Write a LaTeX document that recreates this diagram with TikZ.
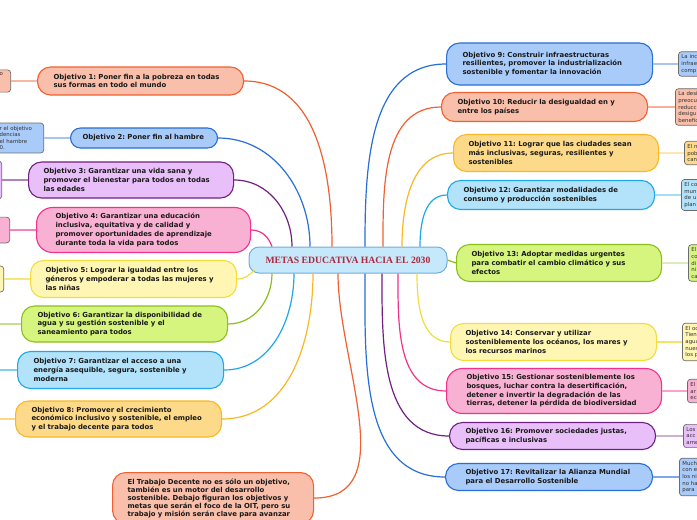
\documentclass[tikz,border=0pt]{standalone}
\usepackage{fontspec}
\setmainfont{DejaVu Sans}
\newfontfamily\titlefont{Liberation Serif}
\usetikzlibrary{positioning}
\frenchspacing
\definecolor{salmonFill}{RGB}{249,191,170}
\definecolor{salmonLine}{RGB}{240,96,48}
\definecolor{blueFill}{RGB}{168,203,250}
\definecolor{blueLine}{RGB}{40,110,215}
\definecolor{lilacFill}{RGB}{233,191,249}
\definecolor{lilacLine}{RGB}{112,32,128}
\definecolor{pinkFill}{RGB}{249,177,211}
\definecolor{pinkLine}{RGB}{240,50,140}
\definecolor{yellowFill}{RGB}{255,246,180}
\definecolor{yellowLine}{RGB}{240,222,60}
\definecolor{greenFill}{RGB}{214,245,126}
\definecolor{greenLine}{RGB}{140,190,30}
\definecolor{cyanFill}{RGB}{178,227,250}
\definecolor{cyanLine}{RGB}{30,168,232}
\definecolor{orangeFill}{RGB}{253,218,138}
\definecolor{orangeLine}{RGB}{249,184,35}
\definecolor{titleFill}{RGB}{197,232,250}
\definecolor{titleLine}{RGB}{110,175,222}
\definecolor{titleText}{RGB}{175,40,60}

\begin{document}
\begin{tikzpicture}[
    x=1pt, y=1pt,
    node distance=26pt,
    % central topic
    topic/.style={
        draw=titleLine, fill=titleFill,
        rounded corners=10pt,
        line width=1pt,
        minimum width=198pt, minimum height=26pt,
        font=\titlefont\bfseries\fontsize{9.7}{11}\selectfont,
        text=titleText
    },
    % goal boxes
    goal/.style={
        draw, anchor=west,
        rounded corners=13pt,
        line width=1.1pt,
        align=left,
        inner xsep=16pt, inner ysep=2pt,
        font=\bfseries\fontsize{6.9}{8.7}\selectfont,
        text=black!90
    },
    % small side notes
    note/.style={
        draw=gray!85!black,
        rounded corners=3pt,
        line width=0.7pt,
        align=left,
        inner sep=3pt,
        text width=60pt,
        font=\fontsize{5.4}{6.6}\selectfont,
        text=black!80
    },
    link/.style={line width=1.2pt},
    noteline/.style={line width=1.5pt}
]

    \path[use as bounding box, fill=white] (0,0) rectangle (697,-520);
    \clip (0,0) rectangle (697,-520);

    % --- central topic ---
    \node[topic] (meta) at (348,-260) {METAS EDUCATIVA HACIA EL 2030};

    % --- left goals ---
    \node[goal, draw=salmonLine, fill=salmonFill, text width=174pt, minimum height=28pt] (obj1) at (37,-81)
        {Objetivo 1: Poner fin a la pobreza en todas\\sus formas en todo el mundo};
    \node[goal, draw=blueLine, fill=blueFill, text width=123pt, inner xsep=12pt, minimum height=20pt, rounded corners=10pt] (obj2) at (70,-138)
        {Objetivo 2: Poner fin al hambre};
    \node[goal, draw=lilacLine, fill=lilacFill, text width=175pt, inner xsep=15pt, minimum height=36pt] (obj3) at (28,-180)
        {Objetivo 3: Garantizar una vida sana y\\promover el bienestar para todos en todas\\las edades};
    \node[goal, draw=pinkLine, fill=pinkFill, text width=176pt, inner xsep=19pt, minimum height=45pt, rounded corners=16pt] (obj4) at (36,-230)
        {Objetivo 4: Garantizar una educación\\inclusiva, equitativa y de calidad y\\promover oportunidades de aprendizaje\\durante toda la vida para todos};
    \node[goal, draw=yellowLine, fill=yellowFill, text width=176pt, inner xsep=15pt, minimum height=37pt] (obj5) at (30,-279)
        {Objetivo 5: Lograr la igualdad entre los\\géneros y empoderar a todas las mujeres y\\las niñas};
    \node[goal, draw=greenLine, fill=greenFill, text width=174pt, minimum height=36pt] (obj6) at (21,-324)
        {Objetivo 6: Garantizar la disponibilidad de\\agua y su gestión sostenible y el\\saneamiento para todos};
    \node[goal, draw=cyanLine, fill=cyanFill, text width=174pt, minimum height=37pt] (obj7) at (17,-370)
        {Objetivo 7: Garantizar el acceso a una\\energía asequible, segura, sostenible y\\moderna};
    \node[goal, draw=orangeLine, fill=orangeFill, text width=174pt, minimum height=36pt] (obj8) at (15,-419)
        {Objetivo 8: Promover el crecimiento\\económico inclusivo y sostenible, el empleo\\y el trabajo decente para todos};

    % --- right goals ---
    \node[goal, draw=blueLine, fill=blueFill, text width=174pt, minimum height=42pt] (obj9) at (446,-64)
        {Objetivo 9: Construir infraestructuras\\resilientes, promover la industrialización\\sostenible y fomentar la innovación};
    \node[goal, draw=salmonLine, fill=salmonFill, text width=174pt, minimum height=29pt] (obj10) at (441,-107)
        {Objetivo 10: Reducir la desigualdad en y\\entre los países};
    \node[goal, draw=orangeLine, fill=orangeFill, text width=175pt, inner xsep=15pt, minimum height=37pt] (obj11) at (453,-153)
        {Objetivo 11: Lograr que las ciudades sean\\más inclusivas, seguras, resilientes y\\sostenibles};
    \node[goal, draw=cyanLine, fill=cyanFill, text width=175pt, minimum height=29pt] (obj12) at (447,-195)
        {Objetivo 12: Garantizar modalidades de\\consumo y producción sostenibles};
    \node[goal, draw=greenLine, fill=greenFill, text width=175pt, inner xsep=15pt, minimum height=37pt] (obj13) at (456,-263)
        {Objetivo 13: Adoptar medidas urgentes\\para combatir el cambio climático y sus\\efectos};
    \node[goal, draw=yellowLine, fill=yellowFill, text width=176pt, inner xsep=15pt, minimum height=37pt] (obj14) at (450,-342)
        {Objetivo 14: Conservar y utilizar\\sosteniblemente los océanos, los mares y\\los recursos marinos};
    \node[goal, draw=pinkLine, fill=pinkFill, text width=175pt, inner xsep=20pt, minimum height=45pt, rounded corners=16pt] (obj15) at (446,-391)
        {Objetivo 15: Gestionar sosteniblemente los\\bosques, luchar contra la desertificación,\\detener e invertir la degradación de las\\tierras, detener la pérdida de biodiversidad};
    \node[goal, draw=lilacLine, fill=lilacFill, text width=174pt, minimum height=27pt] (obj16) at (449,-436)
        {Objetivo 16: Promover sociedades justas,\\pacíficas e inclusivas};
    \node[goal, draw=blueLine, fill=blueFill, text width=167pt, inner xsep=20pt, minimum height=27pt] (obj17) at (445,-477)
        {Objetivo 17: Revitalizar la Alianza Mundial\\para el Desarrollo Sostenible};

    % --- bottom note ---
    \node[goal, anchor=north west, draw=salmonLine, fill=salmonFill, text width=171pt, inner xsep=15pt, inner ysep=6pt,
          font=\bfseries\fontsize{6.9}{8}\selectfont] (trabajo) at (112,-472)
        {El Trabajo Decente no es sólo un objetivo,\\también es un motor del desarrollo\\sostenible. Debajo figuran los objetivos y\\metas que serán el foco de la OIT, pero su\\trabajo y misión serán clave para avanzar};

    % --- side notes, left ---
    \node[note, fill=salmonFill, text width=8pt, left=26pt of obj1] (n1) {o\\~\\~};
    \node[note, fill=blueFill, text width=41pt, left=26pt of obj2] (n2) {r el objetivo\\dencias\\el hambre\\0.};
    \node[note, fill=lilacFill, text width=30pt, minimum height=38pt, left=26pt of obj3] (n3) {};
    \node[note, fill=pinkFill, text width=8pt, left=26pt of obj4] (n4) {~\\~\\~\\.};
    \node[note, fill=yellowFill, text width=30pt, minimum height=26pt, left=26pt of obj5] (n5) {};
    \coordinate (n6) at (-20,-324);
    \coordinate (n7) at (-20,-370);
    \coordinate (n8) at (-20,-419);

    % --- side notes, right ---
    \node[note, fill=blueFill, right=25pt of obj9] (n9) {La inc\\infraes\\comp};
    \node[note, fill=salmonFill, right=27pt of obj10] (n10) {La desi\\preocu\\reducci\\desigu\\benefic};
    \node[note, fill=orangeFill, right=25pt of obj11] (n11) {El n\\pob\\can};
    \node[note, fill=cyanFill, right=26pt of obj12] (n12) {El co\\mun\\de u\\plan};
    \node[note, fill=greenFill, right=26pt of obj13] (n13) {El\\co\\di\\ni\\ca};
    \node[note, fill=yellowFill, right=25pt of obj14] (n14) {El oc\\Tien\\agua\\nues\\los p};
    \node[note, fill=pinkFill, right=25pt of obj15] (n15) {El\\ar\\ec};
    \node[note, fill=lilacFill, right=27pt of obj16] (n16) {Los\\acc\\ame};
    \node[note, fill=blueFill, right=26pt of obj17] (n17) {Much\\con e\\los ni\\no ha\\para};

    % --- connectors from the central topic ---
    \draw[link, salmonLine] ([xshift=-16pt]meta.north) to[out=90, in=0] (obj1.east);
    \draw[link, blueLine] ([xshift=-38pt]meta.north) to[out=90, in=0] (obj2.east);
    \draw[link, lilacLine] ([xshift=-56pt]meta.north) to[out=90, in=0] (obj3.east);
    \draw[link, pinkLine] ([xshift=-76pt]meta.north) to[out=110, in=0] (obj4.east);
    \draw[link, yellowLine] ([xshift=6pt, yshift=-10pt]meta.west) to[out=225, in=0] (obj5.east);
    \draw[link, greenLine] ([xshift=-76pt]meta.south) to[out=-90, in=0] (obj6.east);
    \draw[link, cyanLine] ([xshift=-54pt]meta.south) to[out=-90, in=0] (obj7.east);
    \draw[link, orangeLine] ([xshift=-35pt]meta.south) to[out=-90, in=0] (obj8.east);
    \draw[link, salmonLine] ([xshift=-10pt]meta.south) to[out=-90, in=0] (trabajo.east);

    \draw[link, blueLine] ([xshift=17pt]meta.north) to[out=90, in=180] (obj9.west);
    \draw[link, salmonLine] ([xshift=35pt]meta.north) to[out=90, in=180] (obj10.west);
    \draw[link, orangeLine] ([xshift=54pt]meta.north) to[out=90, in=180] (obj11.west);
    \draw[link, cyanLine] ([xshift=72pt]meta.north) to[out=90, in=180] (obj12.west);
    \draw[link, greenLine] (meta.east) to[out=0, in=180] (obj13.west);
    \draw[link, yellowLine] ([xshift=69pt]meta.south) to[out=-90, in=180] (obj14.west);
    \draw[link, pinkLine] ([xshift=50pt]meta.south) to[out=-90, in=180] (obj15.west);
    \draw[link, lilacLine] ([xshift=34pt]meta.south) to[out=-90, in=180] (obj16.west);
    \draw[link, blueLine] ([xshift=17pt]meta.south) to[out=-90, in=180] (obj17.west);

    % --- lines to the side notes ---
    \draw[noteline, salmonLine!45] (obj1) -- (n1);
    \draw[noteline, blueLine!40] (obj2) -- (n2);
    \draw[noteline, lilacLine!55] (obj3) -- (n3);
    \draw[noteline, pinkLine!60] (obj4) -- (n4);
    \draw[noteline, yellowLine!70] (obj5) -- (n5);
    \draw[noteline, greenLine!50] (obj6) -- (n6);
    \draw[noteline, cyanLine!55] (obj7) -- (n7);
    \draw[noteline, orangeLine!55] (obj8) -- (n8);
    \draw[noteline, blueLine!40] (obj9) -- (n9);
    \draw[noteline, salmonLine!50] (obj10) -- (n10);
    \draw[noteline, orangeLine!35] (obj11) -- (n11);
    \draw[noteline, cyanLine!40] (obj12) -- (n12);
    \draw[noteline, greenLine!30] (obj13) -- (n13);
    \draw[noteline, yellowLine!80] (obj14) -- (n14);
    \draw[noteline, pinkLine!45] (obj15) -- (n15);
    \draw[noteline, lilacLine!35] (obj16) -- (n16);
    \draw[noteline, blueLine!60] (obj17) -- (n17);

\end{tikzpicture}
\end{document}
